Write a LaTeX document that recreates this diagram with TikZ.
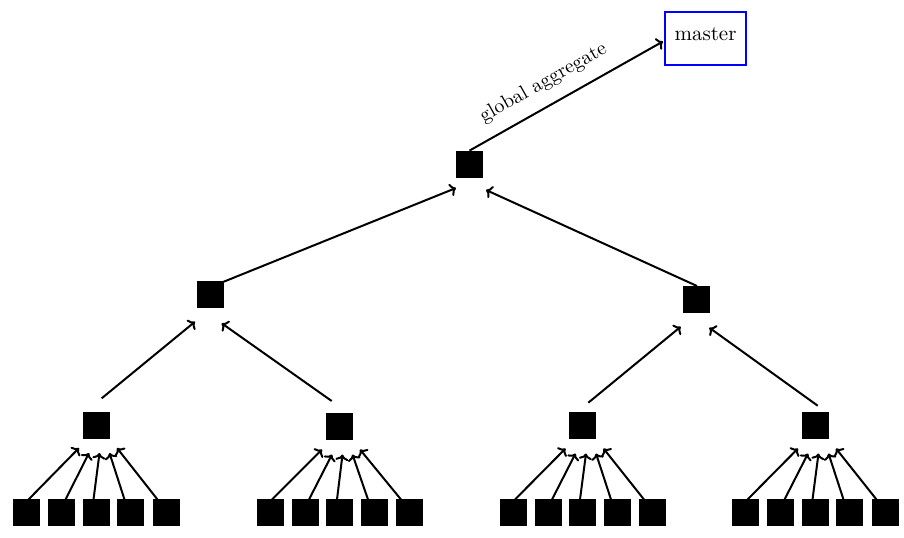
\documentclass[tikz,border=0pt]{standalone}
\usetikzlibrary{calc,arrows.meta}
\begin{document}
\begin{tikzpicture}[x=0.5pt,y=-0.5pt,
  sq/.style={fill=black,inner sep=0pt,minimum size=13.5pt},
  arr/.style={-{To[length=3pt,width=6.5pt]},line width=1pt},
  masterbox/.style={draw=blue,line width=1.1pt,inner sep=0pt,minimum width=40.5pt,text height=14pt,text depth=12.5pt,fill=white,font=\fontsize{10.5}{12}\selectfont}]
\useasboundingbox (0,0) rectangle (904,537);
% nodes
\node[sq] (r) at (469.5,164.5) {};
\node[masterbox] (m) at (705.5,38.5) {master};
\node[sq] (a) at (210,294.5) {};
\node[sq] (b) at (696,299) {};
\node[sq] (c1) at (96,425) {};
\node[sq] (c2) at (339,426.5) {};
\node[sq] (c3) at (582.5,425.5) {};
\node[sq] (c4) at (815,425.5) {};
\foreach \g/\px in {1/96,2/339.5,3/582.5,4/815}{
  \foreach \i/\dx in {1/-69.5,2/-34.5,3/0,4/34.5,5/70}{
    \node[sq] (l\g-\i) at (\px+\dx,512.5) {};
  }
}
% leaf arrows
\foreach \g in {1,2,3,4}{
  \foreach \i/\sx/\tx/\ty in {1/2/-17/23,2/4/-7/28,3/-2.5/3.5/28,4/-6/13.5/28,5/-8.5/21/23}{
    \draw[arr] ($(l\g-\i)+(\sx,-13)$) -- ($(c\g)+(\tx,\ty)$);
  }
}
% level 3 -> level 2
\draw[arr] ($(c1)+(5.7,-26.7)$) -- ($(a)+(-15,27.2)$);
\draw[arr] ($(c2)+(-7.3,-25.5)$) -- ($(a)+(11.7,28.8)$);
\draw[arr] ($(c3)+(5.8,-22.8)$) -- ($(b)+(-15.3,27.7)$);
\draw[arr] ($(c4)+(2.7,-19.8)$) -- ($(b)+(13.3,28.7)$);
% level 2 -> root
\draw[arr] ($(a)+(13,-12.5)$) -- ($(r)+(-13.5,23.5)$);
\draw[arr] ($(b)+(1,-13)$) -- ($(r)+(16.5,25.5)$);
% root -> master
\draw[arr] (r.north) -- ($(m.west)+(-1,3)$) node[pos=0.44,above=3pt,sloped] {global aggregate};
\end{tikzpicture}
\end{document}
